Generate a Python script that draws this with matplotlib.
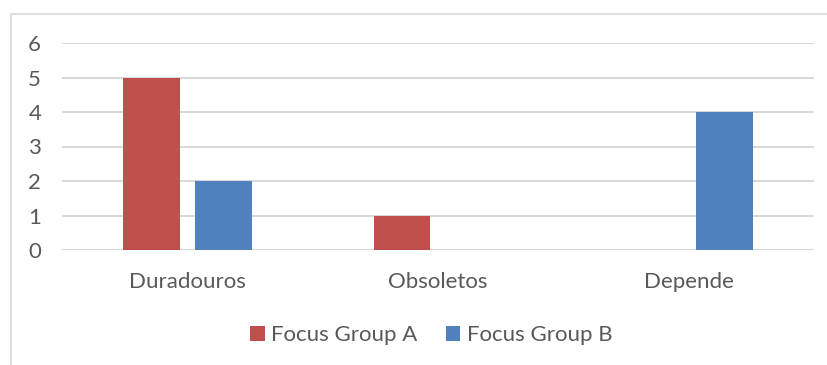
import matplotlib
matplotlib.use("Agg")
import matplotlib.pyplot as plt
from matplotlib.lines import Line2D
from matplotlib.patches import Patch
import numpy as np

categories = ["Duradouros", "Obsoletos", "Depende"]
series_names = ["Focus Group A", "Focus Group B"]
group_a = [5, 1, 0]
group_b = [2, 0, 4]
y_ticks = [0, 1, 2, 3, 4, 5, 6]

colors = ["#C0504D", "#4F81BD"]
text_color = "#595959"
grid_color = "#D9D9D9"

plt.rcParams["font.family"] = ["Lato", "DejaVu Sans"]

fig = plt.figure(figsize=(8.28, 3.65), dpi=100)
ax = fig.add_axes([62 / 828, 1 - 250 / 365, (814 - 62) / 828, (250 - 43) / 365])

x = np.arange(len(categories))
width = 0.227
offset = 0.1436
ax.bar(x - offset, group_a, width, color=colors[0], zorder=3)
ax.bar(x + offset, group_b, width, color=colors[1], zorder=3)

ax.set_xlim(-0.5, len(categories) - 0.5)
ax.set_ylim(0, 6)
ax.set_yticks(y_ticks)
ax.set_xticks(x)
ax.set_xticklabels(categories)
ax.yaxis.grid(True, color=grid_color, linewidth=1.5, zorder=0)
ax.set_axisbelow(True)
for s in ax.spines.values():
    s.set_visible(False)
ax.tick_params(axis="both", length=0, labelsize=16, colors=text_color)
ax.tick_params(axis="y", pad=15)
ax.tick_params(axis="x", pad=16)

# chart frame
fig.add_artist(Line2D([10.5 / 828, 10.5 / 828], [0, 1 - 14 / 365],
                      transform=fig.transFigure, color=grid_color, linewidth=1.2))
fig.add_artist(Line2D([10.5 / 828, 1], [1 - 14 / 365, 1 - 14 / 365],
                      transform=fig.transFigure, color=grid_color, linewidth=1.2))

handles = [Patch(facecolor=c, edgecolor="none") for c in colors]
leg = fig.legend(handles, series_names, loc="center", bbox_to_anchor=(0.521, 0.082),
                 ncol=2, frameon=False, fontsize=16, handlelength=0.66, handleheight=0.66,
                 handletextpad=0.3, columnspacing=1.25, labelcolor=text_color)

fig.savefig("out.png", dpi=100)
